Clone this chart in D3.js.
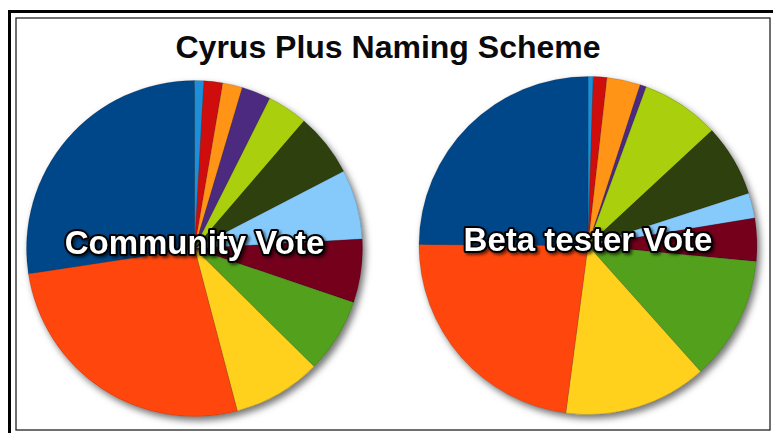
<!DOCTYPE html>
<html>
<head>
<meta charset="utf-8">
<script src="https://cdn.jsdelivr.net/npm/d3@7"></script>
<style>
  html, body { margin: 0; padding: 0; background: #ffffff; }
  svg { display: block; }
</style>
</head>
<body>
<script>
// ---- data ----
const title = "Cyrus Plus Naming Scheme";
const categories = ["Light blue", "Red", "Orange", "Purple", "Yellow-green", "Dark olive",
                    "Sky blue", "Maroon", "Green", "Yellow", "Orange-red", "Navy"];
const colors = ["#1b8fd8", "#d00a0a", "#ff9414", "#4b2a80", "#a9cf0c", "#2f3f08",
                "#86c9fb", "#74001e", "#52a01e", "#ffd11e", "#ff4710", "#02478a"];
const communityVote = [0.9, 1.8, 1.9, 2.8, 3.9, 6.1, 6.7, 6.1, 7.2, 8.5, 26.7, 27.4];
const betaTesterVote = [0.5, 1.3, 3.2, 0.6, 7.5, 6.9, 2.4, 4.1, 11.9, 13.7, 23.0, 24.9];
const pieLabels = ["Community Vote", "Beta tester Vote"];

// ---- layout ----
const W = 773, H = 433;
const svg = d3.select("body").append("svg").attr("width", W).attr("height", H);

const defs = svg.append("defs");
const sh = defs.append("filter").attr("id", "pieShadow")
  .attr("x", "-10%").attr("y", "-10%").attr("width", "125%").attr("height", "125%");
sh.append("feDropShadow").attr("dx", 3).attr("dy", 4).attr("stdDeviation", 3.5)
  .attr("flood-color", "#000").attr("flood-opacity", 0.55);
const tsh = defs.append("filter").attr("id", "textShadow")
  .attr("x", "-10%").attr("y", "-30%").attr("width", "125%").attr("height", "170%");
tsh.append("feDropShadow").attr("dx", 2).attr("dy", 2).attr("stdDeviation", 1.5)
  .attr("flood-color", "#000").attr("flood-opacity", 0.6);

// frame: thick outer line (top + left) and thin inner rectangle
svg.append("line").attr("x1", 9.5).attr("y1", 11.5).attr("x2", W).attr("y2", 11.5)
  .attr("stroke", "#000").attr("stroke-width", 3);
svg.append("line").attr("x1", 9.5).attr("y1", 10).attr("x2", 9.5).attr("y2", H)
  .attr("stroke", "#000").attr("stroke-width", 3);
svg.append("rect").attr("x", 16).attr("y", 18).attr("width", 754).attr("height", 412)
  .attr("fill", "none").attr("stroke", "#222").attr("stroke-width", 1.3);

// title
svg.append("text").attr("x", 388).attr("y", 58)
  .attr("text-anchor", "middle")
  .attr("font-family", "'Liberation Sans', Arial, Helvetica, sans-serif")
  .attr("font-weight", "bold").attr("font-size", 32)
  .attr("fill", "#0a0a0a").text(title);

const pies = [
  { values: communityVote, cx: 194.5, cy: 248.5, r: 168, label: pieLabels[0] },
  { values: betaTesterVote, cx: 588, cy: 245.5, r: 169, label: pieLabels[1] }
];

const pieGen = d3.pie().sort(null).value(d => d);

pies.forEach(p => {
  const g = svg.append("g").attr("transform", `translate(${p.cx},${p.cy})`);
  const arc = d3.arc().innerRadius(0).outerRadius(p.r);
  const slices = g.append("g").attr("filter", "url(#pieShadow)");
  slices.selectAll("path").data(pieGen(p.values)).join("path")
    .attr("d", arc)
    .attr("fill", (d, i) => colors[i])
    .attr("stroke", "rgba(0,0,0,0.3)")
    .attr("stroke-width", 0.5);
  g.append("text").attr("x", 0).attr("y", 5)
    .attr("text-anchor", "middle")
    .attr("font-family", "'Liberation Sans', Arial, Helvetica, sans-serif")
    .attr("font-weight", "bold").attr("font-size", 33)
    .attr("fill", "#fff").attr("stroke", "#000").attr("stroke-width", 4)
    .attr("stroke-linejoin", "round").attr("paint-order", "stroke")
    .attr("filter", "url(#textShadow)")
    .text(p.label);
});
</script>
</body>
</html>
